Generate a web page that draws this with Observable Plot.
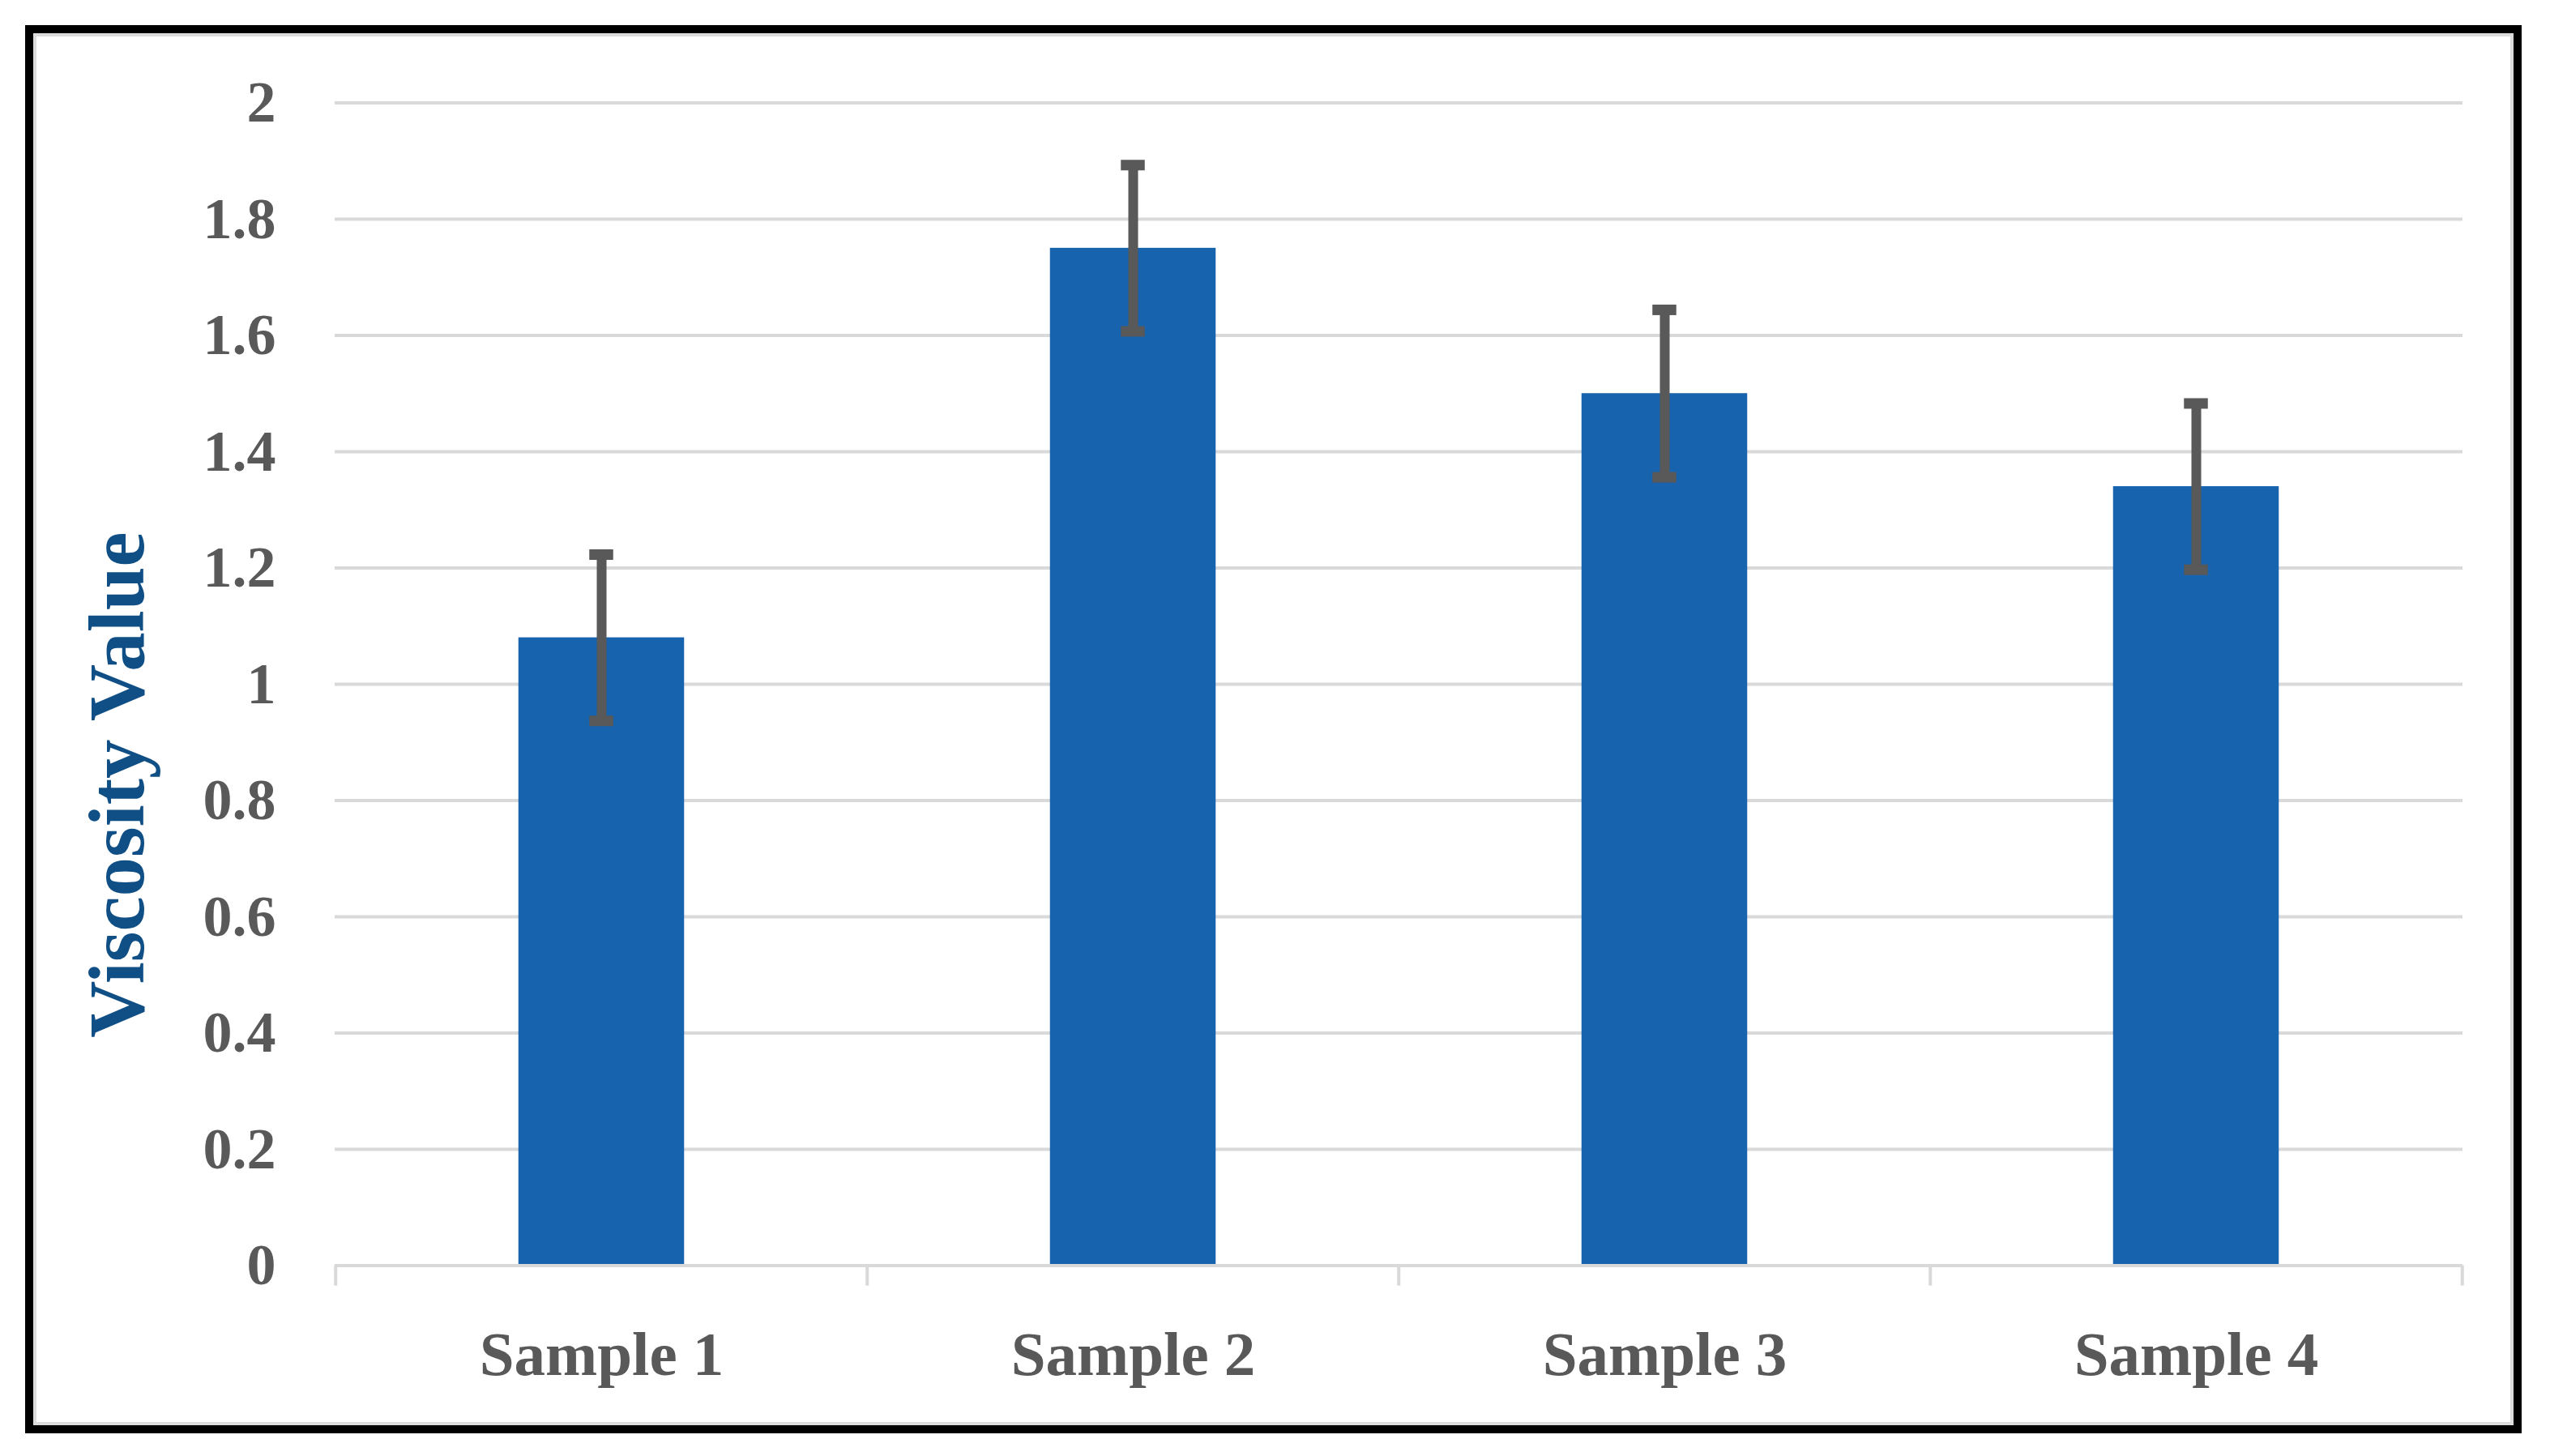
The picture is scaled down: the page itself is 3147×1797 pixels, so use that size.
<!DOCTYPE html>
<html><head><meta charset="utf-8">
<script src="https://cdn.jsdelivr.net/npm/d3@7"></script>
<script src="https://cdn.jsdelivr.net/npm/@observablehq/plot@0.6"></script>
<style>
html,body{margin:0;padding:0;background:#fff;}
#wrap{position:relative;width:3147px;height:1797px;overflow:hidden;}
#chart{position:absolute;left:0;top:0;}
#frame{position:absolute;left:31px;top:31px;width:3081px;height:1738px;box-sizing:border-box;border:10px solid #000;pointer-events:none;}
#frame-inner{position:absolute;left:0;top:0;right:0;bottom:0;border:4px solid #dcdcdc;}
</style></head><body>
<div id="wrap"><div id="chart"></div><div id="frame"><div id="frame-inner"></div></div></div>
<script>
const categories = ["Sample 1", "Sample 2", "Sample 3", "Sample 4"];
const viscosity = [1.08, 1.75, 1.50, 1.34];
const errors = [0.143, 0.143, 0.144, 0.143];
const yTickValues = [0, 0.2, 0.4, 0.6, 0.8, 1, 1.2, 1.4, 1.6, 1.8, 2];
const yTickLabels = ["0", "0.2", "0.4", "0.6", "0.8", "1", "1.2", "1.4", "1.6", "1.8", "2"];
const yAxisTitle = "Viscosity Value";

const data = categories.map((c, i) => ({sample: c, value: viscosity[i], err: errors[i]}));

const W = 3147, H = 1797;
const mL = 413, mR = 108, mT = 126.5, mB = 235.5;
const bandW = (W - mL - mR) / categories.length;
const barW = 205, capW = 30;
const barInset = (bandW - barW) / 2, capInset = (bandW - capW) / 2;
const gridColor = "#d9d9d9", textColor = "#595959", errColor = "#595959";
const tickLen = 0.035;

const chart = Plot.plot({
  width: W, height: H,
  marginLeft: mL, marginRight: mR, marginTop: mT, marginBottom: mB,
  style: {fontFamily: "'Liberation Serif', serif", fontWeight: "bold", color: textColor, background: "transparent"},
  x: {type: "band", domain: categories, padding: 0, label: null},
  y: {domain: [0, 2], label: null},
  marks: [
    Plot.gridY(yTickValues, {stroke: gridColor, strokeOpacity: 1, strokeWidth: 4}),
    Plot.barY(data, {x: "sample", y: "value", fill: "#1763ae", insetLeft: barInset, insetRight: barInset}),
    Plot.ruleY([0], {stroke: gridColor, strokeWidth: 4}),
    Plot.ruleX(categories, {x: d => d, y1: 0, y2: -tickLen, dx: -bandW / 2, stroke: gridColor, strokeWidth: 4}),
    Plot.ruleX(categories.slice(-1), {x: d => d, y1: 0, y2: -tickLen, dx: bandW / 2, stroke: gridColor, strokeWidth: 4}),
    Plot.ruleX(data, {x: "sample", y1: d => d.value - d.err, y2: d => d.value + d.err, stroke: errColor, strokeWidth: 12}),
    Plot.tickY(data, {x: "sample", y: d => d.value + d.err, stroke: errColor, strokeWidth: 13, insetLeft: capInset, insetRight: capInset}),
    Plot.tickY(data, {x: "sample", y: d => d.value - d.err, stroke: errColor, strokeWidth: 13, insetLeft: capInset, insetRight: capInset}),
    Plot.axisY(yTickValues, {tickSize: 0, tickPadding: 73, tickFormat: d => yTickLabels[yTickValues.indexOf(d)], fontSize: 72, fill: textColor, label: null}),
    Plot.axisX({tickSize: 0, tickPadding: 80, fontSize: 77, fill: textColor, label: null}),
    Plot.text([yAxisTitle], {frameAnchor: "left", dx: -268, dy: 124, rotate: -90, fill: "#104f85", fontSize: 97, fontWeight: "bold", textAnchor: "middle", lineAnchor: "middle"})
  ]
});
document.getElementById("chart").appendChild(chart);
</script>
</body></html>
